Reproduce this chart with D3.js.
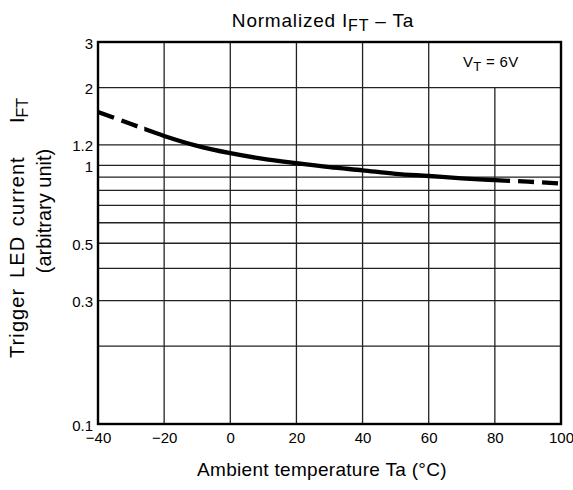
<!DOCTYPE html>
<html><head><meta charset="utf-8">
<script src="https://cdn.jsdelivr.net/npm/d3@7"></script>
<style>
body{margin:0;background:#fff}
svg text{font-family:Arial,"Liberation Sans",Helvetica,sans-serif;fill:#000}
</style>
</head><body>
<svg id="c" width="573" height="490"></svg>
<script>
// ---- data ----
const temps = [-40,-30,-20,-10,0,10,20,30,40,50,60,70,80,90,100];
const ift   = [1.61,1.445,1.30,1.19,1.115,1.06,1.02,0.985,0.957,0.928,0.91,0.891,0.877,0.865,0.85];
const xTicks = [-40,-20,0,20,40,60,80,100];
const yTicks = [0.1,0.3,0.5,1,1.2,2,3];
const yGrid  = [0.2,0.3,0.4,0.5,0.6,0.7,0.8,0.9,1,1.2,2];
const solidSpan = [-26,84];      // measured part of the curve (solid); outside is dashed
const noteGridStart = 2;         // the 80 °C grid line starts below the V_T note

const svg = d3.select("#c");
const x = d3.scaleLinear().domain([-40,100]).range([98,561]);
const y = d3.scaleLog().domain([0.1,3]).range([424,42]);
const pts = temps.map((t,i)=>({t, v:ift[i]}));

// grid
const g = svg.append("g");
g.selectAll(".hg").data(yGrid).join("line")
  .attr("x1",x(-40)).attr("x2",x(100))
  .attr("y1",d=>y(d)).attr("y2",d=>y(d))
  .attr("stroke","#222").attr("stroke-width",1.3);
g.selectAll(".vg").data(xTicks.slice(1,-1)).join("line")
  .attr("x1",d=>x(d)).attr("x2",d=>x(d))
  .attr("y1",d=>d===80 ? y(noteGridStart) : y(3)).attr("y2",y(0.1))
  .attr("stroke","#222").attr("stroke-width",1.3);

// curve
const line = d3.line().x(d=>x(d.t)).y(d=>y(d.v)).curve(d3.curveMonotoneX);
const defs = svg.append("defs");
defs.append("clipPath").attr("id","cL").append("rect")
  .attr("x",0).attr("y",0).attr("width",x(solidSpan[0])).attr("height",490);
defs.append("clipPath").attr("id","cM").append("rect")
  .attr("x",x(solidSpan[0])).attr("y",0).attr("width",x(solidSpan[1])-x(solidSpan[0])).attr("height",490);
defs.append("clipPath").attr("id","cR").append("rect")
  .attr("x",x(solidSpan[1])).attr("y",0).attr("width",573-x(solidSpan[1])).attr("height",490);

svg.append("path").datum(pts).attr("d",line).attr("clip-path","url(#cL)")
  .attr("fill","none").attr("stroke","#000").attr("stroke-width",4.3).attr("stroke-dasharray","17,8");
svg.append("path").datum(pts).attr("d",line).attr("clip-path","url(#cM)")
  .attr("fill","none").attr("stroke","#000").attr("stroke-width",4.3);
svg.append("path").datum(pts.slice().reverse()).attr("d",line).attr("clip-path","url(#cR)")
  .attr("fill","none").attr("stroke","#000").attr("stroke-width",4.3)
  .attr("stroke-dasharray","16,8").attr("stroke-dashoffset",-3);

// frame
svg.append("rect").attr("x",x(-40)).attr("y",y(3))
  .attr("width",x(100)-x(-40)).attr("height",y(0.1)-y(3))
  .attr("fill","none").attr("stroke","#000").attr("stroke-width",2.4);

// axes
const ya = svg.append("g").attr("transform",`translate(${x(-40)},0)`)
  .call(d3.axisLeft(y).tickValues(yTicks).tickSize(0).tickPadding(5).tickFormat(d3.format("")));
ya.select(".domain").remove();
ya.selectAll("text").attr("font-size",15).attr("dy","0.4em").style("font-family","Arial,'Liberation Sans',sans-serif");

const xa = svg.append("g").attr("transform",`translate(0,${y(0.1)})`)
  .call(d3.axisBottom(x).tickValues(xTicks).tickSize(0).tickPadding(8).tickFormat(d3.format("")));
xa.select(".domain").remove();
xa.selectAll("text").attr("font-size",15).style("font-family","Arial,'Liberation Sans',sans-serif");

// title
const t = svg.append("text").attr("x",323).attr("y",27).attr("text-anchor","middle")
  .attr("font-size",19).attr("letter-spacing",0.8);
t.append("tspan").text("Normalized I");
t.append("tspan").attr("dy",4).attr("font-size",16).text("FT");
t.append("tspan").attr("dy",-4).text(" \u2013 Ta");

// V_T note
const n = svg.append("text").attr("x",463).attr("y",67).attr("font-size",15).attr("letter-spacing",0.3);
n.append("tspan").text("V");
n.append("tspan").attr("dy",4).attr("font-size",13).text("T");
n.append("tspan").attr("dy",-4).text(" = 6V");

// x title
svg.append("text").attr("x",322).attr("y",476).attr("text-anchor","middle")
  .attr("font-size",19).attr("letter-spacing",0.3)
  .text("Ambient temperature Ta (\u00B0C)");

// y title
svg.append("text").attr("transform","translate(24,358) rotate(-90)").attr("font-size",20)
  .attr("letter-spacing",1.1).attr("word-spacing",3)
  .text("Trigger LED current");
const yi = svg.append("text").attr("transform","translate(24,123) rotate(-90)").attr("font-size",20);
yi.append("tspan").text("I");
yi.append("tspan").attr("dy",4).attr("font-size",16).text("FT");
svg.append("text").attr("transform","translate(51,211) rotate(-90)").attr("text-anchor","middle").attr("font-size",20)
  .text("(arbitrary unit)");
</script>
</body></html>
